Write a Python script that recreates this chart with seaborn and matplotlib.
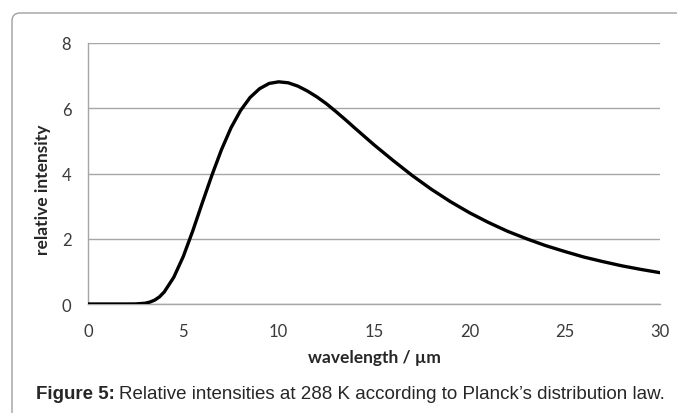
import matplotlib
matplotlib.use('Agg')
import matplotlib.pyplot as plt
import seaborn as sns
import pandas as pd
from matplotlib.patches import FancyBboxPatch
from matplotlib.transforms import IdentityTransform

# values
wavelength = [0, 0.5, 1, 1.5, 2, 2.5, 3, 3.25, 3.5, 3.75, 4, 4.5, 5, 5.5, 6, 6.5, 7,
              7.5, 8, 8.5, 9, 9.5, 10, 10.5, 11, 11.5, 12, 12.5, 13, 13.5, 14, 15,
              16, 17, 18, 19, 20, 21, 22, 23, 24, 25, 26, 27, 28, 29, 30]
intensity = [0, 0, 0, 0, 0.0, 0.002, 0.024, 0.06, 0.12, 0.22, 0.37, 0.82, 1.46, 2.25,
             3.11, 3.95, 4.73, 5.40, 5.93, 6.33, 6.60, 6.76, 6.81, 6.78, 6.68, 6.53,
             6.35, 6.14, 5.90, 5.65, 5.39, 4.88, 4.40, 3.94, 3.52, 3.14, 2.80, 2.50,
             2.23, 2.00, 1.79, 1.61, 1.44, 1.30, 1.17, 1.06, 0.96]
x_ticks = [0, 5, 10, 15, 20, 25, 30]
y_ticks = [0, 2, 4, 6, 8]

df = pd.DataFrame({'wavelength': wavelength, 'intensity': intensity})

sns.set_style('white')
plt.rcParams['font.family'] = ['Lato', 'DejaVu Sans']

fig = plt.figure(figsize=(6.77, 4.14), dpi=100)
ax = fig.add_axes([88 / 677, 1 - 305 / 414, (660 - 88) / 677, (305 - 44) / 414])

sns.lineplot(data=df, x='wavelength', y='intensity', ax=ax, color='black',
             linewidth=2.4, zorder=3)

grid_c = '#a6a6a6'
ax.set_xlim(0, 30)
ax.set_ylim(0, 8)
ax.set_xticks(x_ticks)
ax.set_yticks(y_ticks)
ax.yaxis.grid(True, color=grid_c, linewidth=1)
ax.xaxis.grid(False)
for s in ['top', 'right']:
    ax.spines[s].set_visible(False)
for s in ['left', 'bottom']:
    ax.spines[s].set_color(grid_c)
    ax.spines[s].set_linewidth(1)
ax.tick_params(axis='both', colors=grid_c, length=6, width=1, direction='out',
               labelsize=12, labelcolor='#3a3a3a')
ax.tick_params(axis='y', pad=6)
ax.tick_params(axis='x', pad=8)

ax.set_xlabel('wavelength / µm', fontsize=12.5, fontweight='bold')
ax.set_ylabel('relative intensity', fontsize=12.5, fontweight='bold')
ax.xaxis.set_label_coords((374 - 88) / 572, -(358 - 305) / 261)
ax.yaxis.set_label_coords(-(88 - 43) / 572, (305 - 190) / 261)
ax.xaxis.label.set_va('center')
ax.yaxis.label.set_va('center')

# frame with rounded top-left corner
frame = FancyBboxPatch((12, -30), 720, 414 - 14 + 30,
                       boxstyle='round,pad=0,rounding_size=8',
                       transform=IdentityTransform(), fill=False,
                       edgecolor='#a0a0a0', linewidth=1)
fig.add_artist(frame)

# caption
cap_font = ['Liberation Sans', 'DejaVu Sans']
t1 = fig.text(36 / 677, 1 - 395 / 414, 'Figure 5:', fontsize=13.5, fontweight='bold',
              family=cap_font, va='center', ha='left')
fig.canvas.draw()
bb = t1.get_window_extent()
fig.text((bb.x1 + 4) / 677, 1 - 395 / 414,
         'Relative intensities at 288 K according to Planck\u2019s distribution law.',
         fontsize=13.5, family=cap_font, va='center', ha='left')

fig.savefig('out.png', dpi=100)
